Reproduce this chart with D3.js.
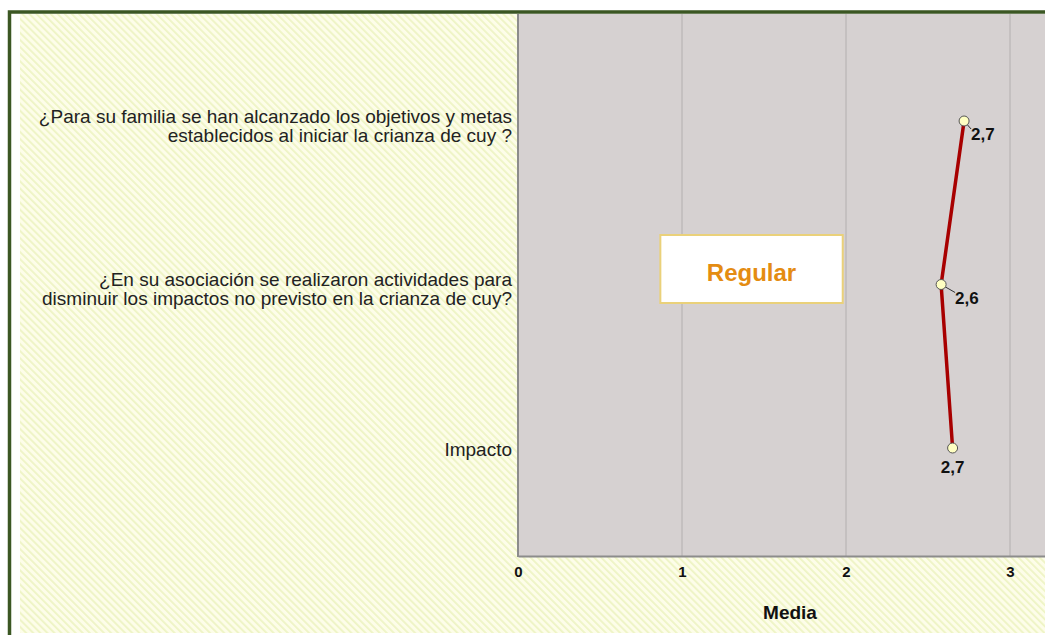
<!DOCTYPE html>
<html>
<head>
<meta charset="utf-8">
<script src="https://cdn.jsdelivr.net/npm/d3@7"></script>
<style>
  html, body { margin: 0; padding: 0; background: #fff; overflow: hidden; }
  svg { display: block; font-family: "Liberation Sans", Arial, sans-serif; }
</style>
</head>
<body>
<div id="chart"></div>
<script>
// data
const categories = [
  ["¿Para su familia se han alcanzado los objetivos y metas", "establecidos al iniciar la crianza de cuy ?"],
  ["¿En su asociación se realizaron actividades para", "disminuir los impactos no previsto en la crianza de cuy?"],
  ["Impacto"]
];
const means = [2.72, 2.58, 2.65];
const valueLabels = ["2,7", "2,6", "2,7"];
const xTicks = [0, 1, 2, 3];
const noteText = "Regular";

const width = 1045, height = 635;
const plot = { left: 518, top: 14, bottom: 556 };
const pxPerUnit = 164;

const svg = d3.select("#chart").append("svg")
  .attr("width", width)
  .attr("height", height);

// hatched background
const defs = svg.append("defs");
const pat = defs.append("pattern")
  .attr("id", "hatch")
  .attr("patternUnits", "userSpaceOnUse")
  .attr("width", 5)
  .attr("height", 5)
  .attr("patternTransform", "rotate(-45)");
pat.append("rect").attr("width", 5).attr("height", 5).attr("fill", "#fdfde9");
pat.append("rect").attr("width", 1.8).attr("height", 5).attr("fill", "#eef4c4");

svg.append("rect")
  .attr("x", 20).attr("y", 14)
  .attr("width", width).attr("height", 619)
  .attr("fill", "url(#hatch)");

// outer frame
svg.append("path")
  .attr("d", "M9.5,640 V12 H1100")
  .attr("fill", "none")
  .attr("stroke", "#3b5723")
  .attr("stroke-width", 3.5);

const x = d3.scaleLinear()
  .domain([0, 3.5])
  .range([plot.left, plot.left + 3.5 * pxPerUnit]);

const y = d3.scalePoint()
  .domain(d3.range(categories.length))
  .range([121, 448]);

// plot area
svg.append("rect")
  .attr("x", plot.left).attr("y", plot.top)
  .attr("width", x(3.5) - plot.left)
  .attr("height", plot.bottom - plot.top)
  .attr("fill", "#d6d1d1");

// grid lines
svg.append("g")
  .selectAll("line")
  .data(xTicks.filter(d => d > 0))
  .join("line")
  .attr("x1", d => x(d)).attr("x2", d => x(d))
  .attr("y1", plot.top).attr("y2", plot.bottom)
  .attr("stroke", "#b9b5b5")
  .attr("stroke-width", 1.2);

// axes
const xAxis = d3.axisBottom(x).tickValues(xTicks).tickSize(0).tickPadding(10).tickFormat(d3.format("d"));
const gx = svg.append("g")
  .attr("transform", `translate(0,${plot.bottom})`)
  .call(xAxis);
gx.select(".domain").attr("stroke", "#8c8c8c").attr("stroke-width", 2);
gx.selectAll("text")
  .attr("font-size", 15)
  .attr("font-weight", "bold")
  .attr("fill", "#111")
  .attr("font-family", "Liberation Sans, Arial, sans-serif");

svg.append("line")
  .attr("x1", plot.left).attr("x2", plot.left)
  .attr("y1", plot.top).attr("y2", plot.bottom + 1)
  .attr("stroke", "#8c8c8c")
  .attr("stroke-width", 2);

svg.append("text")
  .attr("x", 790).attr("y", 619)
  .attr("text-anchor", "middle")
  .attr("font-size", 19)
  .attr("font-weight", "bold")
  .attr("fill", "#111")
  .text("Media");

// category labels
const cat = svg.append("g")
  .selectAll("text")
  .data(categories)
  .join("text")
  .attr("text-anchor", "end")
  .attr("font-size", 19)
  .attr("fill", "#222");
cat.each(function (lines, i) {
  const base = lines.length === 1 ? y(i) + 8 : y(i) + 1.5;
  d3.select(this).selectAll("tspan")
    .data(lines)
    .join("tspan")
    .attr("x", 512)
    .attr("y", (d, j) => base + j * 19)
    .text(d => d);
});

// annotation box
svg.append("rect")
  .attr("x", x(0.868)).attr("y", 235)
  .attr("width", x(1.98) - x(0.868)).attr("height", 68)
  .attr("fill", "#fff")
  .attr("stroke", "#ead17a")
  .attr("stroke-width", 2);
svg.append("text")
  .attr("x", (x(0.868) + x(1.98)) / 2).attr("y", 281)
  .attr("text-anchor", "middle")
  .attr("font-size", 24)
  .attr("font-weight", "bold")
  .attr("fill", "#e48c12")
  .text(noteText);

// mean line
const pts = means.map((m, i) => [x(m), y(i)]);
svg.append("path")
  .attr("d", d3.line()(pts))
  .attr("fill", "none")
  .attr("stroke", "#a80000")
  .attr("stroke-width", 3.5);

// value labels with leaders
const labelOffsets = [[7, 19, "start"], [14, 19, "start"], [0, 25, "middle"]];
const lbl = svg.append("g");
pts.forEach((p, i) => {
  const [dx, dy, anchor] = labelOffsets[i];
  if (anchor === "start") {
    lbl.append("line")
      .attr("x1", p[0]).attr("y1", p[1])
      .attr("x2", p[0] + dx).attr("y2", p[1] + dy - 11)
      .attr("stroke", "#333")
      .attr("stroke-width", 1);
  }
  lbl.append("text")
    .attr("x", p[0] + dx).attr("y", p[1] + dy)
    .attr("text-anchor", anchor)
    .attr("font-size", 17)
    .attr("font-weight", "bold")
    .attr("fill", "#111")
    .text(valueLabels[i]);
});

svg.append("g")
  .selectAll("circle")
  .data(pts)
  .join("circle")
  .attr("cx", d => d[0]).attr("cy", d => d[1])
  .attr("r", 5)
  .attr("fill", "#ffffc2")
  .attr("stroke", "#555")
  .attr("stroke-width", 1);
</script>
</body>
</html>
